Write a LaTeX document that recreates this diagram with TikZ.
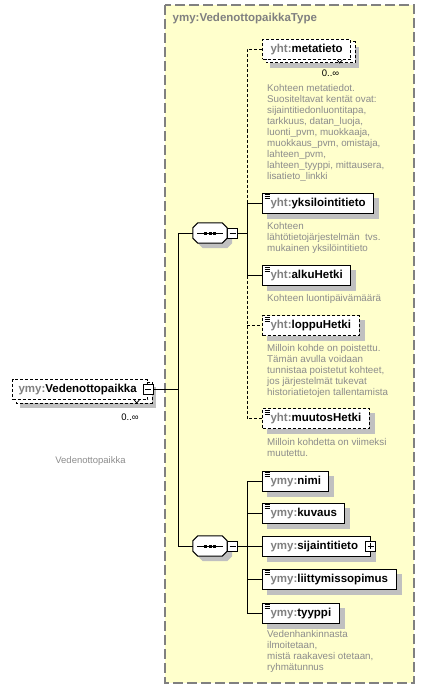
\documentclass[tikz,border=0pt]{standalone}
\usepackage{fontspec}
\setmainfont{Liberation Sans}

\definecolor{typefill}{HTML}{FFFFCC}
\definecolor{typeline}{HTML}{808080}
\definecolor{prefixgray}{HTML}{808080}
\definecolor{descgray}{HTML}{8C8C8C}
\definecolor{shadowgray}{HTML}{C0C0C0}

\pgfdeclarelayer{back}
\pgfdeclarelayer{behind}
\pgfsetlayers{back,behind,main}

\newcommand{\qn}[2]{\textcolor{prefixgray}{#1:}#2}

\tikzset{
  elem/.style={draw=black, fill=white, line width=1pt, anchor=west,
    minimum height=20pt, inner xsep=8pt, inner ysep=0pt,
    text height=8.5pt, text depth=2.5pt,
    font=\fontsize{11.5}{13}\selectfont\bfseries},
  optelem/.style={elem, dash pattern=on 3pt off 2pt},
  simple/.style={path picture={
    \foreach \dy in {1.5,3.5,5.5}
      \draw[solid, line width=0.8pt]
        ([xshift=2pt,yshift=-\dy pt]path picture bounding box.north west) -- ++(5.5pt,0pt);
  }},
  seqbox/.style={minimum width=34pt, minimum height=20pt, inner sep=0pt},
  minusbox/.style={draw=black, fill=white, line width=0.8pt, minimum size=10pt,
    inner sep=0pt, path picture={
      \draw[line width=0.8pt] ([xshift=2pt]path picture bounding box.west)
        -- ([xshift=-2pt]path picture bounding box.east);
  }},
  plusbox/.style={minusbox, path picture={
      \draw[line width=0.8pt] ([xshift=2pt]path picture bounding box.west)
        -- ([xshift=-2pt]path picture bounding box.east);
      \draw[line width=0.8pt] ([yshift=-2pt]path picture bounding box.north)
        -- ([yshift=2pt]path picture bounding box.south);
  }},
  desc/.style={anchor=north west, inner sep=0pt, align=left, text=descgray,
    font=\fontsize{9.8}{10.9}\selectfont},
  card/.style={inner sep=0pt, font=\fontsize{9.5}{11}\selectfont},
  conn/.style={draw=black, line width=1pt},
  optconn/.style={conn, dash pattern=on 3pt off 2pt},
  typeframe/.style={draw=typeline, fill=typefill, line width=1.2pt,
    dash pattern=on 10pt off 4pt},
  typetitle/.style={anchor=west, inner sep=0pt, text=typeline,
    font=\fontsize{11.5}{13}\selectfont\bfseries}
}

\begin{document}
\begin{tikzpicture}[x=1pt,y=-1pt]
\useasboundingbox (0,0) rectangle (425,690);

% Complex type frame
\begin{pgfonlayer}{back}
\draw[typeframe] (165,5) rectangle (414,683);
\end{pgfonlayer}
\node[typetitle] (title) at (172.5,19) {ymy:VedenottopaikkaType};

% Root element
\node[optelem, inner xsep=6pt] (root) at (12,389.5) {\qn{ymy}{Vedenottopaikka}\hspace*{5pt}};
\node[minusbox] (rootm) at (root.east) {};
\node[card] (rootcard) at (130,417) {0..∞};
\node[card, text=descgray] (rootdesc) at (90.5,461) {Vedenottopaikka};
\draw[line width=0.8pt] ([xshift=-14pt]root.south east) -- ++(2.5pt,-3pt) -- ++(2.5pt,3pt);

% First sequence
\coordinate (trunk1) at (178,233);
\coordinate (branch1) at (247,233);
\node[seqbox] (seq1) at (210,233) {};
\node[minusbox] (seq1m) at (232.5,233) {};

\node[optelem] (meta) at (262,49.5) {\qn{yht}{metatieto}};
\node[card] (metacard) at (330.5,73) {0..∞};
\draw[line width=0.8pt] ([xshift=-14pt]meta.south east) -- ++(2.5pt,-3pt) -- ++(2.5pt,3pt);
\node[desc] (metadesc) at (267,84.5) {Kohteen metatiedot.\\
  Suositeltavat kentät ovat:\\
  sijaintitiedonluontitapa,\\
  tarkkuus, datan\_luoja,\\
  luonti\_pvm, muokkaaja,\\
  muokkaus\_pvm, omistaja,\\
  lahteen\_pvm,\\
  lahteen\_tyyppi, mittausera,\\
  lisatieto\_linkki};

\node[elem, simple] (yksi) at (262,203) {\qn{yht}{yksilointitieto}};
\node[desc] (yksidesc) at (267,222.5) {Kohteen\\
  lähtötietojärjestelmän\ \ tvs.\\
  mukainen yksilöintitieto};

\node[elem, simple] (alku) at (262,275.5) {\qn{yht}{alkuHetki}};
\node[desc] (alkudesc) at (267,294.2) {Kohteen luontipäivämäärä};

\node[optelem, simple] (loppu) at (262,325.5) {\qn{yht}{loppuHetki}};
\node[desc] (loppudesc) at (267,344.5) {Milloin kohde on poistettu.\\
  Tämän avulla voidaan\\
  tunnistaa poistetut kohteet,\\
  jos järjestelmät tukevat\\
  historiatietojen tallentamista};

\node[optelem, simple] (muutos) at (262,418.5) {\qn{yht}{muutosHetki}};
\node[desc] (muutosdesc) at (267,438.2) {Milloin kohdetta on viimeksi\\
  muutettu.};

% Second sequence
\coordinate (trunk2) at (178,546);
\coordinate (branch2) at (247,546);
\node[seqbox] (seq2) at (210,546) {};
\node[minusbox] (seq2m) at (232.5,546) {};

\node[elem, simple] (nimi) at (262,481) {\qn{ymy}{nimi}};
\node[elem, simple] (kuvaus) at (262,513) {\qn{ymy}{kuvaus}};
\node[elem] (sijainti) at (262,546) {\qn{ymy}{sijaintitieto}\hspace*{4pt}};
\node[plusbox] (sijaintip) at (sijainti.east) {};
\node[elem, simple] (liitty) at (262,579) {\qn{ymy}{liittymissopimus}};
\node[elem, simple] (tyyppi) at (262,613) {\qn{ymy}{tyyppi}};
\node[desc] (tyyppidesc) at (267,630.5) {Vedenhankinnasta\\
  ilmoitetaan,\\
  mistä raakavesi otetaan,\\
  ryhmätunnus};

% Sequence symbols
\foreach \s in {seq1,seq2} {
  \begin{pgfonlayer}{behind}
  \fill[shadowgray]
    ([xshift=10pt,yshift=-5pt]\s.north west) -- ([xshift=0pt,yshift=-5pt]\s.north east)
    -- ([xshift=5pt,yshift=-10pt]\s.north east) -- ([xshift=5pt,yshift=0pt]\s.south east)
    -- ([xshift=0pt,yshift=-5pt]\s.south east) -- ([xshift=10pt,yshift=-5pt]\s.south west)
    -- ([xshift=5pt,yshift=0pt]\s.south west) -- ([xshift=5pt,yshift=-10pt]\s.north west) -- cycle;
  \end{pgfonlayer}
  \draw[line width=1pt, fill=white]
    ([xshift=5pt]\s.north west) -- ([xshift=-5pt]\s.north east)
    -- ([yshift=-5pt]\s.north east) -- ([yshift=5pt]\s.south east)
    -- ([xshift=-5pt]\s.south east) -- ([xshift=5pt]\s.south west)
    -- ([yshift=5pt]\s.south west) -- ([yshift=-5pt]\s.north west) -- cycle;
  \draw[line width=1pt] ([xshift=-13pt]\s.center) -- ([xshift=13pt]\s.center);
  \foreach \dx in {-4.2,0,4.2}
    \fill ([xshift=\dx pt]\s.center) +(-1.5pt,-1.5pt) rectangle +(1.5pt,1.5pt);
}

% Shadows
\begin{pgfonlayer}{behind}
\foreach \n in {yksi,alku,loppu,muutos,nimi,kuvaus,sijainti,liitty,tyyppi}
  \fill[shadowgray] ([shift={(5,5)}]\n.north west) rectangle ([shift={(5,5)}]\n.south east);
\foreach \n in {root,meta} {
  \fill[shadowgray] ([shift={(8,8)}]\n.north west) rectangle ([shift={(8,8)}]\n.south east);
  \draw[line width=1pt, dash pattern=on 3pt off 2pt, fill=white]
    ([shift={(4,3)}]\n.north west) rectangle ([shift={(4,3)}]\n.south east);
}
\end{pgfonlayer}

% Connectors
\draw[conn] (rootm.east) -- (rootm.east -| trunk1);
\draw[conn] (trunk1) -- (trunk2);
\draw[conn] (trunk1) -- (seq1.west);
\draw[conn] (trunk2) -- (seq2.west);
\draw[conn] (seq1m.east) -- (branch1);
\draw[conn] (seq2m.east) -- (branch2);
\draw[optconn] (meta.west) -- (meta.west -| branch1) -- (yksi.west -| branch1);
\draw[conn] (yksi.west) -- (yksi.west -| branch1) -- (alku.west -| branch1) -- (alku.west);
\draw[optconn] (alku.west -| branch1) -- (muutos.west -| branch1) -- (muutos.west);
\draw[optconn] (loppu.west -| branch1) -- (loppu.west);
\draw[conn] (nimi.west) -- (nimi.west -| branch2) -- (tyyppi.west -| branch2) -- (tyyppi.west);
\foreach \n in {kuvaus,sijainti,liitty}
  \draw[conn] (\n.west -| branch2) -- (\n.west);
\end{tikzpicture}
\end{document}
